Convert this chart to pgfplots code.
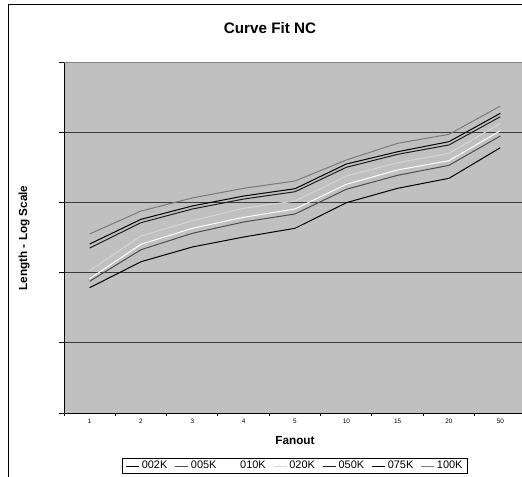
\documentclass[border=0pt]{standalone}
\usepackage{pgfplots}
\pgfplotsset{compat=1.18}
\usepackage{fontspec}
\setmainfont{Liberation Sans}
\setsansfont{Liberation Sans}
\definecolor{plotbg}{HTML}{C0C0C0}
\definecolor{gridc}{HTML}{3A3A3A}
\definecolor{topc}{HTML}{808080}
\definecolor{cA}{HTML}{000000}
\definecolor{cB}{HTML}{4D4D4D}
\definecolor{cC}{HTML}{FFFFFF}
\definecolor{cD}{HTML}{D6D6D6}
\definecolor{cE}{HTML}{1E1E1E}
\definecolor{cF}{HTML}{000000}
\definecolor{cG}{HTML}{7A7A7A}
\begin{document}
\begin{tikzpicture}[x=0.75pt,y=0.75pt]
\path[use as bounding box] (-64,-63) rectangle (458,413);
\clip (-64,-63) rectangle (458,413);
\fill[white] (-64,-63) rectangle (458,413);
\draw[black, line width=0.75pt] (-55,-90) rectangle (480,409);
\begin{axis}[
  at={(0,0)}, anchor=south west,
  scale only axis, width=346.5pt, height=263.25pt,
  xmin=-0.5, xmax=8.5, ymin=0, ymax=5,
  axis background/.style={fill=plotbg},
  axis x line*=bottom, axis y line*=left,
  axis line style={-, black, line width=0.75pt},
  xtick={0,1,2,3,4,5,6,7,8},
  xticklabels={\mbox{1},\mbox{2},\mbox{3},\mbox{4},\mbox{5},\mbox{10},\mbox{15},\mbox{20},\mbox{50}},
  major x tick style={draw=none},
  minor xtick={-0.5,0.5,1.5,2.5,3.5,4.5,5.5,6.5,7.5,8.5},
  minor x tick style={black, line width=0.75pt},
  ytick={0,1,2,3,4,5}, yticklabels={},
  major y tick style={black, line width=0.75pt},
  tick align=outside, major tick length=3.5pt, minor tick length=2.5pt,
  ymajorgrids, grid style={line width=0.75pt, color=gridc},
  xticklabel style={font=\fontsize{4.8}{5.5}\selectfont, inner sep=1pt},
  legend columns=7,
  legend style={at={(0.5,-0.151)}, anchor=center, draw=black, line width=0.6pt,
    fill=white, font=\fontsize{8.2}{9}\selectfont, inner xsep=2pt, inner ysep=1pt,
    /tikz/every even column/.append style={column sep=4pt},
    nodes={inner xsep=1.5pt, inner ysep=1pt}},
  legend image code/.code={\draw[#1, line width=0.75pt] (0pt,0pt) -- (10pt,0pt);},
  every axis plot/.append style={line width=0.75pt, mark=none},
]
\addplot[cA] coordinates {(0,1.785) (1,2.155) (2,2.365) (3,2.507) (4,2.631) (5,2.996) (6,3.201) (7,3.343) (8,3.779)};
\addlegendentry{002K}
\addplot[cB] coordinates {(0,1.876) (1,2.326) (2,2.560) (3,2.721) (4,2.835) (5,3.187) (6,3.386) (7,3.528) (8,3.946)};
\addlegendentry{005K}
\addplot[cC] coordinates {(0,1.913) (1,2.403) (2,2.631) (3,2.788) (4,2.906) (5,3.258) (6,3.462) (7,3.594) (8,4.021)};
\addlegendentry{010K}
\addplot[cD] coordinates {(0,2.027) (1,2.521) (2,2.739) (3,2.916) (4,3.020) (5,3.376) (6,3.566) (7,3.699) (8,4.127)};
\addlegendentry{020K}
\addplot[cE] coordinates {(0,2.350) (1,2.711) (2,2.906) (3,3.048) (4,3.152) (5,3.500) (6,3.685) (7,3.818) (8,4.221)};
\addlegendentry{050K}
\addplot[cF] coordinates {(0,2.407) (1,2.759) (2,2.949) (3,3.091) (4,3.195) (5,3.547) (6,3.722) (7,3.865) (8,4.269)};
\addlegendentry{075K}
\addplot[cG] coordinates {(0,2.550) (1,2.877) (2,3.063) (3,3.201) (4,3.305) (5,3.604) (6,3.842) (7,3.970) (8,4.373)};
\addlegendentry{100K}
\draw[topc, line width=0.75pt] (axis cs:-0.5,5) -- (axis cs:8.5,5);
\end{axis}
\node[font=\bfseries\fontsize{11.4}{13}\selectfont] at (206,385) {Curve Fit NC};
\node[font=\bfseries\fontsize{8.8}{10}\selectfont] at (231,-28) {Fanout};
\node[font=\bfseries\fontsize{8.8}{10}\selectfont, rotate=90] at (-40,175) {Length - Log Scale};
\end{tikzpicture}
\end{document}
